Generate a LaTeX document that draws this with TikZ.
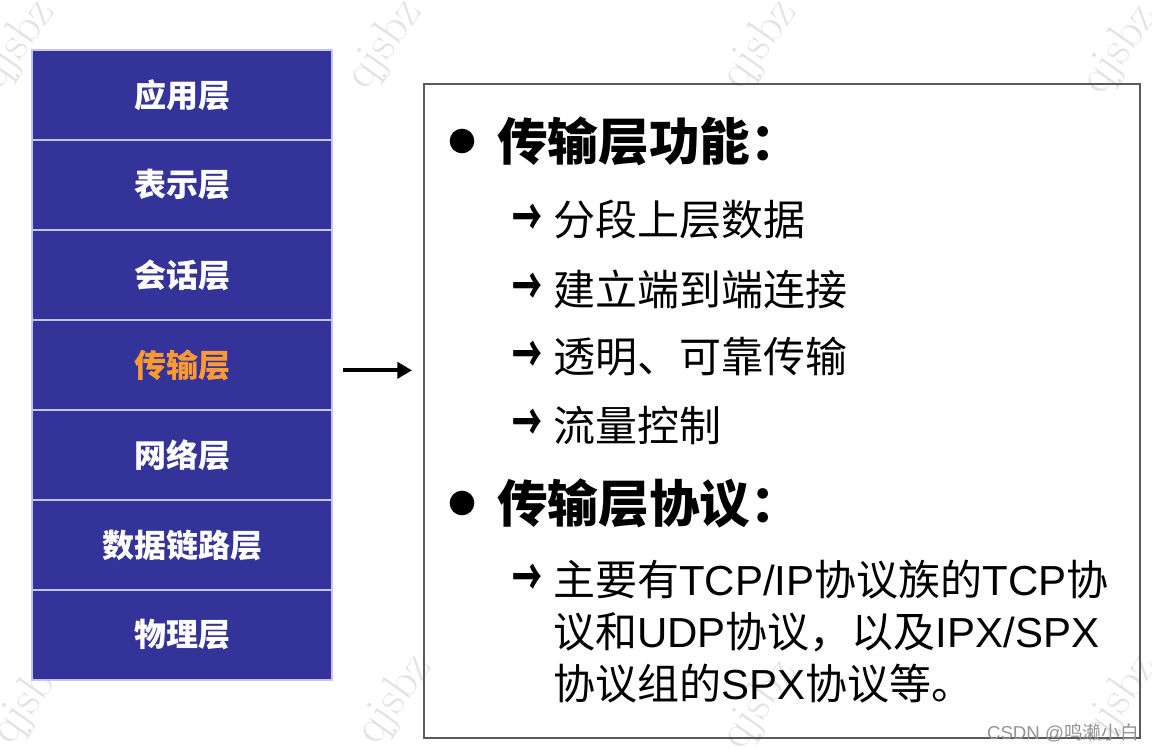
\documentclass[tikz,border=0pt]{standalone}
\usepackage{fontspec}
\newfontfamily\cjk{Noto Sans CJK SC}
\newfontfamily\arial{Liberation Sans}
\usepackage{tikz}
\usetikzlibrary{arrows.meta, positioning}
\definecolor{osiblue}{RGB}{51,51,153}
\definecolor{sepline}{RGB}{196,196,236}
\definecolor{hilite}{RGB}{255,153,51}
\definecolor{framegray}{RGB}{90,90,90}
\newcommand{\itemtip}{\scalebox{0.8}[1.4]{→}}
\tikzset{
  layer/.style={rectangle, fill=osiblue, draw=sepline, line width=0.9pt,
                outer sep=0pt, inner sep=0pt,
                minimum width=225pt, minimum height=67.5pt, text=white,
                font=\cjk\bfseries\fontsize{24}{24}\selectfont},
  panel/.style={rectangle, draw=framegray, line width=1.5pt, inner sep=0pt,
                minimum width=537pt, minimum height=490.5pt},
  dot/.style={circle, fill=black, minimum size=18.5pt, inner sep=0pt},
  heading/.style={anchor=west, inner sep=0pt,
                  font=\cjk\bfseries\fontsize{38}{38}\selectfont},
  tip/.style={inner sep=0pt, font=\cjk\bfseries\fontsize{28}{28}\selectfont},
  item/.style={anchor=west, inner sep=0pt,
               font=\cjk\fontsize{31.5}{31.5}\selectfont},
  flowarrow/.style={-{Triangle[length=11pt,width=12pt]}, line width=3pt},
  wmark/.style={gray!22, rotate=55, font=\fontsize{36}{36}\selectfont},
  credit/.style={anchor=east, inner sep=0pt, text=gray!85,
                 font=\fontsize{14}{14}\selectfont},
}

\begin{document}
\begin{tikzpicture}[x=0.75pt, y=-0.75pt]
  \useasboundingbox (0,0) rectangle (1152,750);

  % watermark
  \foreach \wx/\wy [count=\i] in {18/45, 385/45, 760/45, 1120/50,
                                 30/700, 395/700, 760/705, 1120/700}
    \node[wmark] (wm\i) at (\wx,\wy) {qjsbz};

  % OSI stack
  \node[layer] (app) at (182,95) {应用层};
  \node[layer, below=0pt of app] (pres) {表示层};
  \node[layer, below=0pt of pres] (sess) {会话层};
  \node[layer, below=0pt of sess, text=hilite] (trans) {传输层};
  \node[layer, below=0pt of trans] (net) {网络层};
  \node[layer, below=0pt of net] (link) {数据链路层};
  \node[layer, below=0pt of link] (phys) {物理层};

  % detail panel
  \node[panel] (panel) at (782,411) {};
  \draw[flowarrow] ([xshift=8.25pt,yshift=-4pt]trans.east)
    -- ([xshift=-8.25pt,yshift=-4pt]trans.east -| panel.west);

  % functions
  \node[dot] (dotA) at (462,141) {};
  \node[heading] (headA) at (497,141) {传输层功能：};
  \node[tip] (tipA) at (527,220) {\itemtip};
  \node[item] (itemA) at (553,220) {分段上层数据};
  \node[tip] (tipB) at (527,289) {\itemtip};
  \node[item] (itemB) at (553,289) {建立端到端连接};
  \node[tip] (tipC) at (527,357) {\itemtip};
  \node[item] (itemC) at (553,357) {透明、可靠传输};
  \node[tip] (tipD) at (527,425) {\itemtip};
  \node[item] (itemD) at (553,425) {流量控制};

  % protocols
  \node[dot] (dotB) at (462,503) {};
  \node[heading] (headB) at (497,503) {传输层协议：};
  \node[tip] (tipE) at (527,580) {\itemtip};
  \node[item] (itemE1) at (553,580)
    {主要有{\arial TCP/IP}协议族的{\arial TCP}协};
  \node[item] (itemE2) at (553,632)
    {议和{\arial UDP}协议，以及{\arial IPX/SPX}};
  \node[item] (itemE3) at (553,684)
    {协议组的{\arial SPX}协议等。};

  \node[credit] (src) at (1139,733) {{\arial CSDN @}{\cjk 鸣濑小白}};
\end{tikzpicture}
\end{document}
